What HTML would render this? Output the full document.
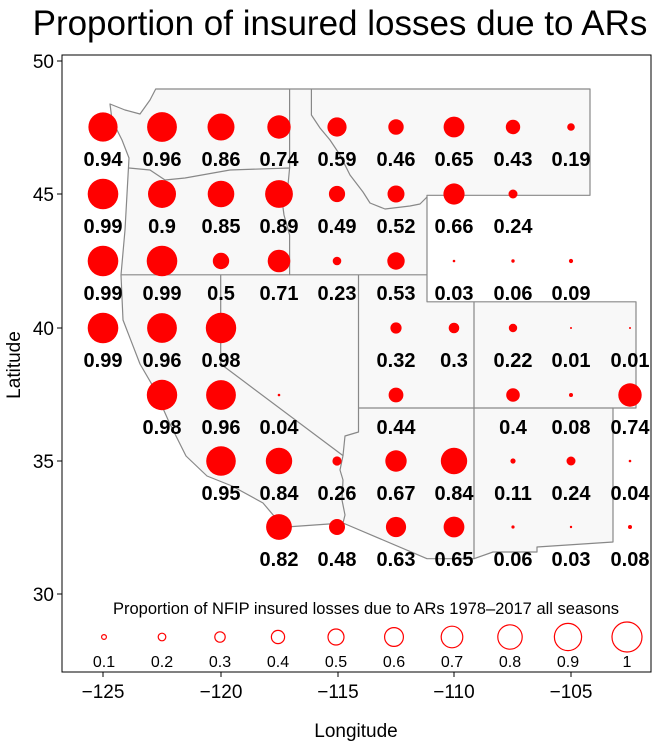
<!DOCTYPE html>
<html><head><style>
body{margin:0;background:#fff;}
svg{display:block;font-family:"Liberation Sans",Arial,sans-serif;}
</style></head><body>
<svg width="660" height="744" viewBox="0 0 660 744" xmlns="http://www.w3.org/2000/svg">
<text x="340" y="35" font-size="35" text-anchor="middle">Proportion of insured losses due to ARs</text>
<rect x="62" y="55" width="589" height="617" fill="#fff" stroke="#000" stroke-width="1"/>
<g fill="#f8f8f8" stroke="#888" stroke-width="1.2" stroke-linejoin="round">
<path d="M110,104 L125,110 L140,114 L150,100 L155.7,89 L590,89 L590,195.3 L427,195.3 L427,301.8 L474,301.8 L474,301.8 L636,301.8 L636,408 L613,408 L613,542 L537,547 L537,552 L493,552 L474,558.7 L427,558.7 L343,523 L291.5,526.6 L274,516 L263,503 L232,486 L207,476 L186,456 L169,422 L154,388 L140,364 L123,320 L121,275 L125,230 L129,158 L122,140 L112,120 Z"/>
<path d="M129,168 L150,170 L165,180 L185,178 L230,170 L289.6,168 L288,185 L282,200 L284,215 L289.6,235 L289.6,274.8 L121,274.8" fill="none"/>
<path d="M289.6,89 L289.6,168" fill="none"/>
<path d="M311.4,89 L311.4,115 L320,128 L330,140 L340,155 L350,175 L363,192 L370,203 L385,209 L410,206 L420,204 L427,197" fill="none"/>
<path d="M289.6,274.8 L427,274.8" fill="none"/>
<path d="M220.7,274.8 L220.7,364 L343,455.6 L340,470 L343,480 L342,500 L345,515 L343,523" fill="none"/>
<path d="M358.5,274.8 L358.5,432 L345,436 L343,455.6" fill="none"/>
<path d="M358.5,408 L474,408 L474,558.7" fill="none"/>
<path d="M474,301.8 L474,408 L613,408" fill="none"/>
</g>
<g fill="#f00">
<circle cx="103" cy="127" r="14.6"/><circle cx="162" cy="127" r="14.9"/><circle cx="221" cy="127" r="13.5"/><circle cx="279" cy="127" r="11.7"/><circle cx="337" cy="127" r="9.6"/><circle cx="396" cy="127" r="7.7"/><circle cx="454" cy="127" r="10.4"/><circle cx="513" cy="127" r="7.2"/><circle cx="571" cy="127" r="3.8"/>
<circle cx="103" cy="194" r="15.3"/><circle cx="162" cy="194" r="14"/><circle cx="221" cy="194" r="13.3"/><circle cx="279" cy="194" r="13.9"/><circle cx="337" cy="194" r="8.1"/><circle cx="396" cy="194" r="8.5"/><circle cx="454" cy="194" r="10.6"/><circle cx="513" cy="194" r="4.5"/>
<circle cx="103" cy="261" r="15.3"/><circle cx="162" cy="261" r="15.3"/><circle cx="221" cy="261" r="8.2"/><circle cx="279" cy="261" r="11.3"/><circle cx="337" cy="261" r="4.3"/><circle cx="396" cy="261" r="8.7"/><circle cx="454" cy="261" r="1.3"/><circle cx="513" cy="261" r="1.7"/><circle cx="571" cy="261" r="2.1"/>
<circle cx="103" cy="328" r="15.3"/><circle cx="162" cy="328" r="14.9"/><circle cx="221" cy="328" r="15.2"/><circle cx="396" cy="328" r="5.6"/><circle cx="454" cy="328" r="5.3"/><circle cx="513" cy="328" r="4.2"/><circle cx="571" cy="328" r="1"/><circle cx="630" cy="328" r="1"/>
<circle cx="162" cy="395" r="15.2"/><circle cx="221" cy="395" r="14.9"/><circle cx="279" cy="395" r="1.3"/><circle cx="396" cy="395" r="7.4"/><circle cx="513" cy="395" r="6.8"/><circle cx="571" cy="395" r="2"/><circle cx="630" cy="395" r="11.7"/>
<circle cx="221" cy="461" r="14.8"/><circle cx="279" cy="461" r="13.2"/><circle cx="337" cy="461" r="4.6"/><circle cx="396" cy="461" r="10.7"/><circle cx="454" cy="461" r="13.2"/><circle cx="513" cy="461" r="2.6"/><circle cx="571" cy="461" r="4.5"/><circle cx="630" cy="461" r="1.3"/>
<circle cx="279" cy="527" r="12.9"/><circle cx="337" cy="527" r="8"/><circle cx="396" cy="527" r="10.1"/><circle cx="454" cy="527" r="10.4"/><circle cx="513" cy="527" r="1.6"/><circle cx="571" cy="527" r="1.2"/><circle cx="630" cy="527" r="2"/>
</g>
<g font-size="20" font-weight="bold" text-anchor="middle">
<text x="103" y="166">0.94</text><text x="162" y="166">0.96</text><text x="221" y="166">0.86</text><text x="279" y="166">0.74</text><text x="337" y="166">0.59</text><text x="396" y="166">0.46</text><text x="454" y="166">0.65</text><text x="513" y="166">0.43</text><text x="571" y="166">0.19</text>
<text x="103" y="233">0.99</text><text x="162" y="233">0.9</text><text x="221" y="233">0.85</text><text x="279" y="233">0.89</text><text x="337" y="233">0.49</text><text x="396" y="233">0.52</text><text x="454" y="233">0.66</text><text x="513" y="233">0.24</text>
<text x="103" y="300">0.99</text><text x="162" y="300">0.99</text><text x="221" y="300">0.5</text><text x="279" y="300">0.71</text><text x="337" y="300">0.23</text><text x="396" y="300">0.53</text><text x="454" y="300">0.03</text><text x="513" y="300">0.06</text><text x="571" y="300">0.09</text>
<text x="103" y="367">0.99</text><text x="162" y="367">0.96</text><text x="221" y="367">0.98</text><text x="396" y="367">0.32</text><text x="454" y="367">0.3</text><text x="513" y="367">0.22</text><text x="571" y="367">0.01</text><text x="630" y="367">0.01</text>
<text x="162" y="434">0.98</text><text x="221" y="434">0.96</text><text x="279" y="434">0.04</text><text x="396" y="434">0.44</text><text x="513" y="434">0.4</text><text x="571" y="434">0.08</text><text x="630" y="434">0.74</text>
<text x="221" y="500">0.95</text><text x="279" y="500">0.84</text><text x="337" y="500">0.26</text><text x="396" y="500">0.67</text><text x="454" y="500">0.84</text><text x="513" y="500">0.11</text><text x="571" y="500">0.24</text><text x="630" y="500">0.04</text>
<text x="279" y="566">0.82</text><text x="337" y="566">0.48</text><text x="396" y="566">0.63</text><text x="454" y="566">0.65</text><text x="513" y="566">0.06</text><text x="571" y="566">0.03</text><text x="630" y="566">0.08</text>
</g>
<text x="366" y="614" font-size="16.5" text-anchor="middle">Proportion of NFIP insured losses due to ARs 1978–2017 all seasons</text>
<g fill="none" stroke="#f00" stroke-width="1.2">
<circle cx="104" cy="637" r="2.4"/><circle cx="162" cy="637" r="3.8"/><circle cx="220" cy="637" r="5.2"/><circle cx="278" cy="637" r="6.6"/><circle cx="336" cy="637" r="8"/><circle cx="394" cy="637" r="9.4"/><circle cx="452" cy="637" r="10.8"/><circle cx="510" cy="637" r="12.2"/><circle cx="568" cy="637" r="13.6"/><circle cx="627" cy="637" r="15"/>
</g>
<g font-size="16" text-anchor="middle">
<text x="104" y="667">0.1</text><text x="162" y="667">0.2</text><text x="220" y="667">0.3</text><text x="278" y="667">0.4</text><text x="336" y="667">0.5</text><text x="394" y="667">0.6</text><text x="452" y="667">0.7</text><text x="510" y="667">0.8</text><text x="568" y="667">0.9</text><text x="627" y="667">1</text>
</g>
<g stroke="#000" stroke-width="1">
<line x1="103" y1="672" x2="103" y2="677"/><line x1="221" y1="672" x2="221" y2="677"/><line x1="338" y1="672" x2="338" y2="677"/><line x1="454" y1="672" x2="454" y2="677"/><line x1="571" y1="672" x2="571" y2="677"/>
<line x1="57" y1="61" x2="62" y2="61"/><line x1="57" y1="194" x2="62" y2="194"/><line x1="57" y1="328" x2="62" y2="328"/><line x1="57" y1="461" x2="62" y2="461"/><line x1="57" y1="594" x2="62" y2="594"/>
</g>
<g font-size="19" text-anchor="middle">
<text x="103" y="698">−125</text><text x="221" y="698">−120</text><text x="338" y="698">−115</text><text x="454" y="698">−110</text><text x="571" y="698">−105</text>
</g>
<g font-size="19" text-anchor="end">
<text x="54" y="68">50</text><text x="54" y="201">45</text><text x="54" y="335">40</text><text x="54" y="468">35</text><text x="54" y="601">30</text>
</g>
<text x="356" y="737" font-size="19" text-anchor="middle">Longitude</text>
<text transform="translate(20,365) rotate(-90)" font-size="19" text-anchor="middle">Latitude</text>
</svg>
</body></html>
